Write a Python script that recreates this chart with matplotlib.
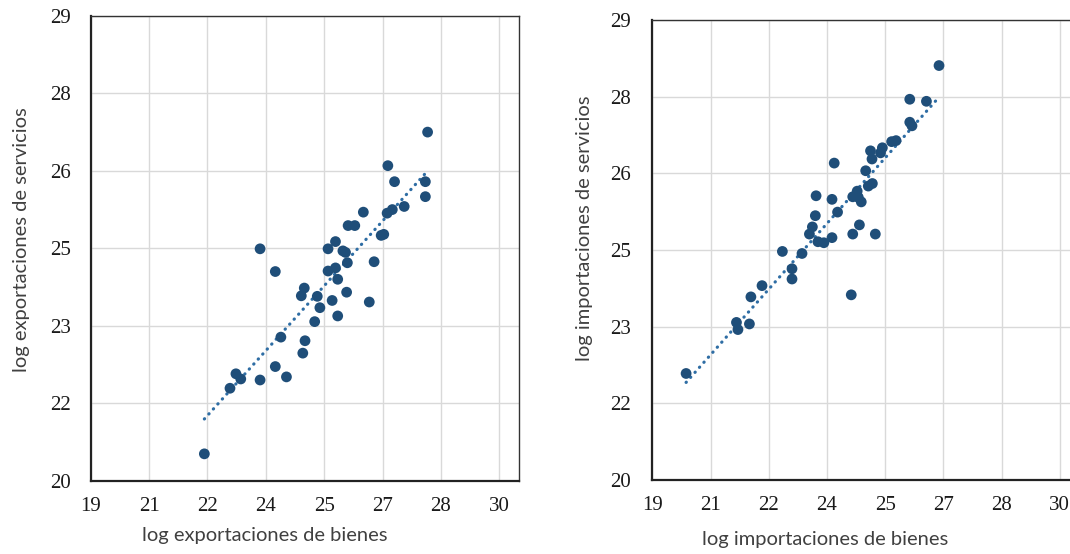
import numpy as np
import matplotlib.pyplot as plt
from matplotlib.ticker import FixedLocator, FuncFormatter

# Datos (log bienes vs log servicios)
exp_bienes = [22.06, 22.75, 22.91, 23.04, 23.56, 23.56, 23.97, 23.97, 24.12, 24.27,
              24.67, 24.75, 24.71, 24.77, 25.03, 25.10, 25.17, 25.39, 25.39, 25.50,
              25.59, 25.59, 25.65, 25.65, 25.79, 25.86, 25.91, 25.89, 25.93, 26.11,
              26.34, 26.50, 26.63, 26.82, 26.89, 26.98, 27.12, 27.00, 27.18, 27.44,
              28.01, 28.01, 28.07]
exp_servicios = [20.52, 21.79, 22.07, 21.97, 21.95, 24.49, 22.21, 24.05, 22.78, 22.01,
                 23.58, 23.73, 22.47, 22.71, 23.08, 23.57, 23.35, 24.49, 24.06, 23.49,
                 24.63, 24.12, 23.90, 23.19, 24.45, 24.42, 24.22, 23.65, 24.94, 24.94,
                 25.20, 23.46, 24.24, 24.75, 24.77, 25.18, 25.25, 26.10, 25.79, 25.31,
                 25.79, 25.50, 26.75]

imp_bienes = [19.91, 21.27, 21.31, 21.62, 21.66, 21.96, 22.51, 22.77, 22.77, 23.04,
              23.24, 23.32, 23.40, 23.42, 23.47, 23.63, 23.85, 23.91, 23.85, 24.00,
              24.37, 24.41, 24.41, 24.53, 24.56, 24.64, 24.59, 24.76, 24.83, 24.94,
              24.89, 24.93, 25.02, 25.16, 25.21, 25.46, 25.58, 25.95, 25.95, 26.01,
              26.40, 26.74]
imp_servicios = [22.08, 23.08, 22.94, 23.05, 23.58, 23.80, 24.47, 24.13, 23.93, 24.43,
                 24.81, 24.95, 25.17, 25.56, 24.66, 24.64, 25.49, 26.20, 24.74, 25.24,
                 23.62, 24.81, 25.54, 25.65, 25.53, 25.44, 24.99, 26.05, 25.75, 25.80,
                 26.44, 26.28, 24.81, 26.40, 26.50, 26.62, 26.64, 27.45, 27.00, 26.93,
                 27.41, 28.11]

xticks = np.linspace(19, 30, 8)
yticks = np.linspace(20, 29, 7)

W, H = 1070, 554
fig = plt.figure(figsize=(W / 100, H / 100), dpi=100)

color_pts = '#1f4e79'
color_line = '#2e6da4'
tick_font = dict(family='Liberation Serif', size=15)
label_font = dict(family='Lato', size=14.5, color='#404040')


def fmt(v, pos):
    return str(int(np.floor(v + 0.5)))


def panel(rect, x, y, xlabel, ylabel, xlab_pos, ylab_pos, ypad):
    l, r, t, b = rect
    ax = fig.add_axes([l / W, 1 - b / H, (r - l) / W, (b - t) / H])
    ax.set_xlim(19, 30.52)
    ax.set_ylim(20, 29)
    ax.xaxis.set_major_locator(FixedLocator(xticks))
    ax.yaxis.set_major_locator(FixedLocator(yticks))
    ax.xaxis.set_major_formatter(FuncFormatter(fmt))
    ax.yaxis.set_major_formatter(FuncFormatter(fmt))
    ax.grid(True, color='#d9d9d9', linewidth=1)
    ax.set_axisbelow(True)
    ax.tick_params(length=0)
    ax.tick_params(axis='x', pad=12)
    ax.tick_params(axis='y', pad=ypad)
    for lab in ax.get_xticklabels() + ax.get_yticklabels():
        lab.set_fontfamily(tick_font['family'])
        lab.set_fontsize(tick_font['size'])
        lab.set_color('#1a1a1a')
    for s in ['left', 'bottom']:
        ax.spines[s].set_linewidth(1.6)
        ax.spines[s].set_color('#222222')
    for s in ['top', 'right']:
        ax.spines[s].set_linewidth(1.0)
        ax.spines[s].set_color('#333333')

    # linea de tendencia (ajuste lineal), punteada
    m, c = np.polyfit(x, y, 1)
    xs = np.array([min(x), max(x)])
    ax.plot(xs, m * xs + c, linestyle=(0, (0.1, 2.0)), linewidth=2.3,
            color=color_line, dash_capstyle='round', zorder=2)
    ax.scatter(x, y, s=60, color=color_pts, edgecolors='none', zorder=3)

    ax.set_xlabel(xlabel, **label_font)
    ax.set_ylabel(ylabel, **label_font)
    ax.xaxis.set_label_coords(*xlab_pos)
    ax.yaxis.set_label_coords(*ylab_pos)
    return ax


panel((90.7, 518.6, 15.9, 480.7), exp_bienes, exp_servicios,
      'log exportaciones de bienes', 'log exportaciones de servicios',
      (0.407, -0.100), (-0.142, 0.518), 14)
panel((652.4, 1079, 20.1, 479.7), imp_bienes, imp_servicios,
      'log importaciones de bienes', 'log importaciones de servicios',
      (0.405, -0.112), (-0.139, 0.548), 15.5)

fig.savefig('out.png', dpi=100)
